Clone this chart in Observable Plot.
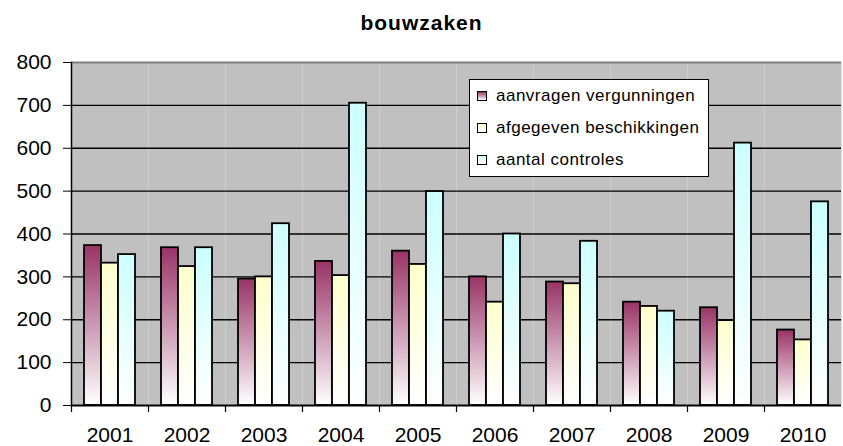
<!DOCTYPE html>
<html><head><meta charset="utf-8">
<script src="https://cdn.jsdelivr.net/npm/d3@7"></script>
<script src="https://cdn.jsdelivr.net/npm/@observablehq/plot@0.6"></script>
<style>
body{margin:0;background:#fff;font-family:"Liberation Sans",Arial,sans-serif;}
#wrap{position:relative;width:843px;height:446px;overflow:hidden}
#title{position:absolute;left:0;width:843px;top:12px;text-align:center;font-weight:bold;font-size:21px;letter-spacing:1px;line-height:22px;color:#000}
#legend{position:absolute;left:469px;top:79px;width:240px;height:98px;background:#fff;border:1px solid #000;box-sizing:border-box}
.row{position:absolute;left:7px;height:20px;display:flex;align-items:center;font-size:17px;letter-spacing:0.5px;white-space:nowrap}
.sw{width:8px;height:8px;border:1px solid #000;margin-right:9px;flex:none}
</style></head>
<body>
<div id="wrap">
<div id="chart"></div>
<div id="title">bouwzaken</div>
<div id="legend"></div>
</div>
<script>
const years = ["2001","2002","2003","2004","2005","2006","2007","2008","2009","2010"];
const series = ["aanvragen vergunningen","afgegeven beschikkingen","aantal controles"];
const aanvragen = [373,368,295,336,360,300,288,241,228,176];
const afgegeven = [332,324,300,303,329,241,284,231,198,153];
const controles = [352,368,424,705,499,400,383,220,612,475];
const yTicks = [0,100,200,300,400,500,600,700,800];
const seriesColors = ["#993366","#FFFFCC","#CCFFFF"];

const values = [aanvragen, afgegeven, controles];
const rows = years.flatMap((yr,i)=>series.map((s,j)=>({year:yr, series:s, value:values[j][i]})));

const chart = Plot.plot({
  width:843, height:446,
  marginLeft:68, marginRight:0, marginTop:62, marginBottom:41,
  style:{fontFamily:"'Liberation Sans', Arial, sans-serif", fontSize:"20px", color:"#000", background:"transparent"},
  fx:{domain:years, padding:0, label:null},
  x:{domain:series, paddingInner:0, paddingOuter:0.69, axis:null},
  y:{domain:[0,800], axis:null, label:null},
  color:{domain:series, range:series.map((s,j)=>`url(#g${j})`)},
  marks:[
    Plot.frame({fill:"#c0c0c0", stroke:null}),
    Plot.gridY(yTicks.filter(d=>d>0 && d<800), {stroke:"#000", strokeOpacity:1, strokeWidth:1.3}),
    Plot.ruleY([800], {stroke:"#808080", strokeWidth:2}),
    Plot.barY(rows, {fx:"year", x:"series", y:"value", fill:"series", stroke:"#000", strokeWidth:1.8}),
    Plot.ruleY([0], {stroke:"#000", strokeWidth:2}),
    Plot.frame({anchor:"left", facetAnchor:"left", stroke:"#000", strokeWidth:1.5}),
    Plot.frame({anchor:"left", stroke:"#000", strokeWidth:1.2, insetTop:343, insetBottom:-6}),
    Plot.axisY(yTicks, {anchor:"left", tickSize:8, tickPadding:12, fontSize:21, stroke:"#000", label:null}),
    Plot.axisFx({anchor:"bottom", tickSize:0, tickPadding:22, fontSize:21, label:null})
  ]
});

const svg = d3.select(chart);
const defs = svg.insert("defs", ":first-child");
seriesColors.forEach((c,j)=>{
  const g = defs.append("linearGradient").attr("id",`g${j}`).attr("x1",0).attr("y1",0).attr("x2",0).attr("y2",1);
  g.append("stop").attr("offset","0%").attr("stop-color",c);
  g.append("stop").attr("offset","100%").attr("stop-color","#ffffff");
});
document.getElementById("chart").appendChild(chart);

const legend = document.getElementById("legend");
series.forEach((s,j)=>{
  const r = document.createElement("div");
  r.className = "row";
  r.style.top = (6 + j*32) + "px";
  const sw = document.createElement("div");
  sw.className = "sw";
  sw.style.background = `linear-gradient(${seriesColors[j]}, #fff)`;
  r.appendChild(sw);
  const t = document.createElement("span");
  t.textContent = s;
  r.appendChild(t);
  legend.appendChild(r);
});
</script>
</body></html>
